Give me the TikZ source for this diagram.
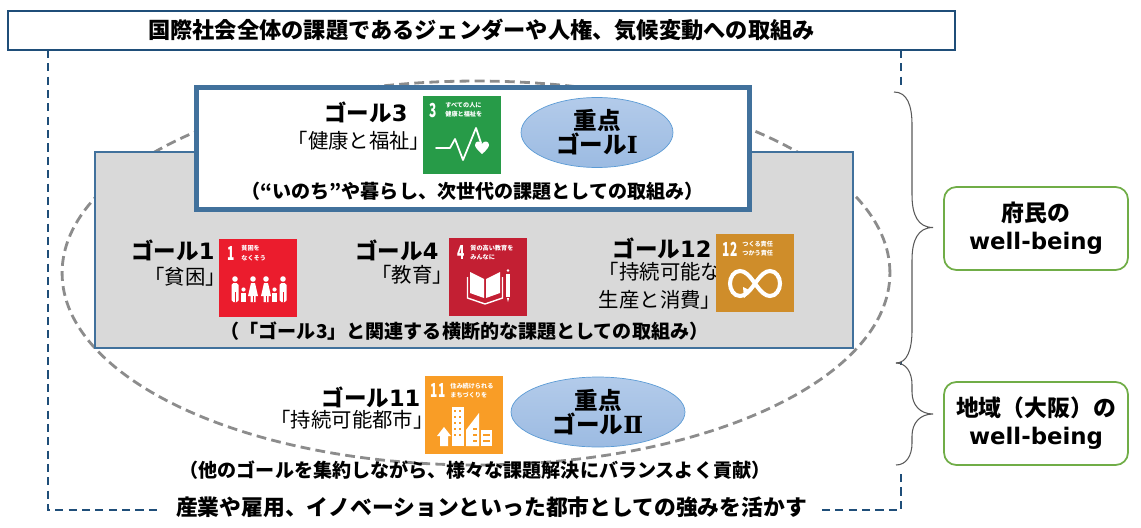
\documentclass[tikz,border=0pt]{standalone}
\usepackage{fontspec}
\setmainfont{Noto Sans CJK JP}
\newfontfamily\latinfont{DejaVu Sans}
\newfontfamily\romanfont{DejaVu Serif}
\newfontfamily\numfont[FakeStretch=0.62]{Noto Sans CJK JP}
\usetikzlibrary{shapes.geometric}
\definecolor{framblue}{HTML}{1F4E79}
\definecolor{panelblue}{HTML}{41719C}
\definecolor{goalthree}{HTML}{279B48}
\definecolor{goalone}{HTML}{EB1C2D}
\definecolor{goalfour}{HTML}{C31F33}
\definecolor{goaltwelve}{HTML}{CF8D2A}
\definecolor{goaleleven}{HTML}{F99D26}
\definecolor{ovaltop}{HTML}{B3CBEA}
\definecolor{ovalbottom}{HTML}{9CBBE2}
\definecolor{ovalline}{HTML}{5B9BD5}
\definecolor{wellgreen}{HTML}{70AD47}
\tikzset{
  framedash/.style={framblue, line width=1pt, dash pattern=on 4.6pt off 3pt},
  bracket/.style={black!65, line width=.6pt},
  bigline/.style={font=\fontsize{12.65}{13}\selectfont\bfseries, inner sep=0pt},
  goalhead/.style={font=\fontsize{12.8}{14}\selectfont\bfseries, inner sep=0pt},
  goalname/.style={font=\fontsize{11.6}{16}\selectfont, inner sep=0pt, align=center},
  remark/.style={font=\fontsize{10.85}{12}\selectfont\bfseries, inner sep=0pt},
  sdgicon/.style={minimum size=1.56cm, inner sep=0pt, outer sep=0pt},
  sdgnum/.style={font=\fontsize{11}{11}\numfont\bfseries, text=white, inner sep=0pt},
  sdgtext/.style={font=\fontsize{3.5}{5.3}\selectfont\bfseries, text=white, inner sep=0pt, align=left, anchor=west},
  focusoval/.style={ellipse, draw=ovalline, top color=ovaltop, bottom color=ovalbottom, minimum height=1.4cm, inner sep=0pt, align=center, font=\fontsize{13.4}{13.6}\selectfont\bfseries},
  wellbox/.style={draw=wellgreen, line width=1pt, rounded corners=7pt, minimum width=3.68cm, minimum height=1.66cm, inner sep=0pt, align=center, font=\fontsize{13}{16}\selectfont\bfseries},
  glyph/.style={white, line width=1pt, line cap=round, line join=round}
}
\begin{document}
\begin{tikzpicture}[x=0.02cm,y=-0.02cm]
\useasboundingbox (0,0) rectangle (1141,527);
% cadre pointille
\coordinate (fa) at (48,50);
\coordinate (fb) at (48,510);
\coordinate (fc) at (157,510);
\coordinate (fd) at (822,510);
\coordinate (fe) at (901,510);
\coordinate (ff) at (901,50);
\coordinate (fg) at (901,88);
\coordinate (fh) at (901,471);
\coordinate (fi) at (901,362);
\coordinate (fj) at (901,365);
\draw[framedash] (fa) -- (fb) -- (fc);
\draw[framedash] (fd) -- (fe) -- (fh);
\draw[framedash] (ff) -- (fg);
\draw[framedash] (fi) -- (fj);
\node[draw=framblue, line width=1pt, minimum width=18.94cm, minimum height=.78cm, inner sep=0pt, bigline] (title) at (481.5,30.5) {国際社会全体の課題であるジェンダーや人権、気候変動への取組み};
% ellipse
\node[ellipse, draw=gray!90, line width=1.6pt, dash pattern=on 5.6pt off 3pt, minimum width=16.56cm, minimum height=7.68cm, inner sep=0pt] (oval) at (476,273) {};
% panneaux
\node[draw=panelblue, fill=gray!30, line width=.9pt, minimum width=15.16cm, minimum height=3.92cm, inner sep=0pt] (panel) at (474,250) {};
\node[draw=panelblue, fill=white, line width=2.9pt, minimum width=11.07cm, minimum height=2.44cm, inner sep=0pt] (top) at (473,148.5) {};
% objectif 3
\node[goalhead] (headthree) at (366,112) {ゴール{\latinfont 3}};
\node[goalname] (namethree) at (359,141) {「健康と福祉」};
\node[sdgicon, fill=goalthree] (iconthree) at (462,135) {};
\node[sdgnum] (numthree) at (433,110) {3};
\node[sdgtext] (txtthree) at (445,110) {すべての人に\\健康と福祉を};
\draw[glyph] (436,148) -- (450,148) -- (455,139) -- (463,160) -- (476,128) -- (481,143);
\fill[white] (482,154) .. controls (476,149) and (475,146) .. (475,145) .. controls (475,141) and (480,140) .. (482,144) .. controls (484,140) and (489,141) .. (489,145) .. controls (489,146) and (488,149) .. (482,154);
\node[focusoval, minimum width=3.04cm] (focusone) at (597,132.5) {重点\\ゴール{\romanfont Ⅰ}};
\node[remark] (remarkthree) at (472.5,191) {（“いのち”や暮らし、次世代の課題としての取組み）};
% objectif 1
\node[goalhead] (headone) at (173,250) {ゴール{\latinfont 1}};
\node[goalname] (nameone) at (185,277) {「貧困」};
\node[sdgicon, fill=goalone] (iconone) at (258,278) {};
\node[sdgnum] (numone) at (231,253) {1};
\node[sdgtext] (txtone) at (241,253) {貧困を\\なくそう};
\foreach \xp in {235,283} {
  \fill[white] (\xp,279) circle (2.8);
  \fill[white, rounded corners=1pt] (\xp-3.5,283) rectangle (\xp+3.5,302);
  \draw[goalone, line width=.3pt] (\xp,292) -- (\xp,302);
}
\foreach \xp in {253,266} {
  \fill[white] (\xp,279) circle (2.8);
  \fill[white] (\xp-2,283) -- (\xp+2,283) -- (\xp+5,296) -- (\xp+2.5,296) -- (\xp+2.5,302) -- (\xp-2.5,302) -- (\xp-2.5,296) -- (\xp-5,296) -- cycle;
  \draw[goalone, line width=.3pt] (\xp,296) -- (\xp,302);
}
\foreach \xp in {243.5,274.5} {
  \fill[white] (\xp,289.5) circle (2.1);
  \fill[white] (\xp-2.3,293) rectangle (\xp+2.3,302);
}
% objectif 4
\node[goalhead] (headfour) at (397,250) {ゴール{\latinfont 4}};
\node[goalname] (namefour) at (412,275) {「教育」};
\node[sdgicon, fill=goalfour] (iconfour) at (488,277) {};
\node[sdgnum] (numfour) at (461,252.5) {4};
\node[sdgtext] (txtfour) at (470,252.5) {質の高い教育を\\みんなに};
\fill[white] (470,272) -- (484,279) -- (484,298) -- (470,293) -- cycle;
\fill[white] (500,272) -- (486,279) -- (486,298) -- (500,293) -- cycle;
\draw[white, line width=.8pt] (467.5,277) -- (467.5,298) -- (485,304) -- (502.5,298) -- (502.5,277);
\draw[white, line width=2pt] (508,274) -- (508,297);
\fill[white] (506.9,298) -- (509.1,298) -- (508,302) -- cycle;
\fill[white] (508,270.5) circle (1.3);
% objectif 12
\node[goalhead] (headtwelve) at (662,248) {ゴール{\latinfont 12}};
\node[goalname] (nametwelve) at (660,286) {「持続可能な\\生産と消費」};
\node[sdgicon, fill=goaltwelve] (icontwelve) at (755,273) {};
\node[sdgnum] (numtwelve) at (730,249.5) {12};
\node[sdgtext] (txttwelve) at (742,249) {つくる責任\\つかう責任};
\draw[white, line width=2.3pt] (755,283.5) .. controls (749,275) and (745,271) .. (740,271) .. controls (734,271) and (730,277) .. (730,283.5) .. controls (730,290) and (734,296) .. (740,296) .. controls (745,296) and (749,292) .. (755,283.5) .. controls (761,275) and (765,271) .. (770,271) .. controls (776,271) and (780,277) .. (780,283.5) .. controls (780,290) and (776,296) .. (770,296) .. controls (765,296) and (761,292) .. (755,283.5);
\fill[white] (743,287) -- (751,291) -- (744,298) -- cycle;
\node[remark] (remarkmid) at (464.5,331) {（「ゴール3」と関連する横断的な課題としての取組み）};
% objectif 11
\node[goalhead] (headeleven) at (371,397) {ゴール{\latinfont 11}};
\node[goalname] (nameeleven) at (352,420) {「持続可能都市」};
\node[sdgicon, fill=goaleleven] (iconeleven) at (464,415) {};
\node[sdgnum] (numeleven) at (438,390.5) {11};
\node[sdgtext] (txteleven) at (450,390.5) {住み続けられる\\まちづくりを};
\fill[white] (452,407) rectangle (464,446);
\foreach \yw in {411,417,423,429,435}
  \foreach \xw in {455,460}
    \fill[goaleleven] (\xw-1,\yw-1) rectangle (\xw+1,\yw+1);
\fill[white] (466,446) -- (466,430) -- (479,413) -- (479,446) -- cycle;
\foreach \yw in {429,435,441}
  \fill[goaleleven] (473,\yw-1) rectangle (477,\yw+1);
\fill[white] (481,430) rectangle (492,446);
\foreach \yw in {435,441}
  \fill[goaleleven] (483,\yw-1) rectangle (490,\yw+1);
\fill[white] (440,446) -- (440,436) -- (437,436) -- (444,427) -- (451,436) -- (448,436) -- (448,446) -- cycle;
\node[focusoval, minimum width=3.48cm] (focustwo) at (598,412) {重点\\ゴール{\romanfont Ⅱ}};
\node[remark] (remarklow) at (475,470) {（他のゴールを集約しながら、様々な課題解決にバランスよく貢献）};
\node[bigline, font=\fontsize{12.4}{13}\selectfont\bfseries] (strength) at (491.5,507) {産業や雇用、イノベーションといった都市としての強みを活かす};
% accolades
\coordinate (bracea) at (894,92);
\coordinate (braceb) at (896,363);
\coordinate (bracec) at (896,465);
\coordinate (tipfu) at (933,227.5);
\coordinate (tipchi) at (933,414);
\draw[bracket] (bracea) .. controls (907,92) and (912,105) .. (912,125) -- (912,195) .. controls (912,215) and (918,227.5) .. (tipfu) .. controls (918,227.5) and (912,240) .. (912,260) -- (912,330) .. controls (912,350) and (907,363) .. (braceb);
\draw[bracket] (braceb) .. controls (906,363) and (912,372) .. (912,385) -- (912,392) .. controls (912,405) and (920,414) .. (tipchi) .. controls (920,414) and (912,423) .. (912,436) -- (912,443) .. controls (912,456) and (906,465) .. (bracec);
\node[wellbox] (wellfu) at (1036,228.5) {府民の\\{\latinfont well-being}};
\node[wellbox] (wellchi) at (1036,423.5) {地域（大阪）の\\{\latinfont well-being}};
\end{tikzpicture}
\end{document}
